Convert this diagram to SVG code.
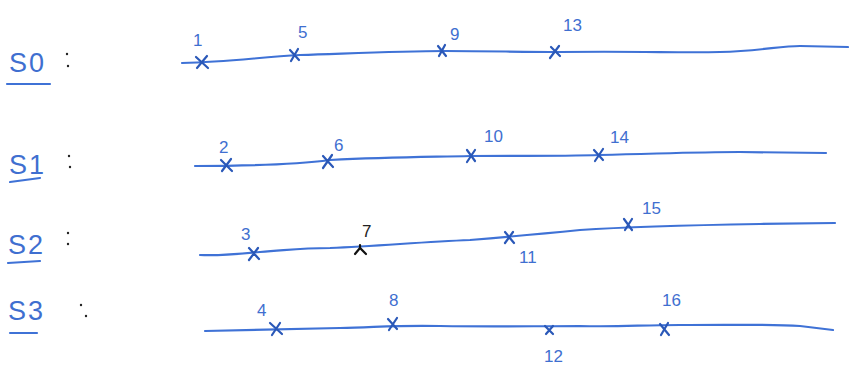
<svg xmlns="http://www.w3.org/2000/svg" width="849" height="371" viewBox="0 0 849 371">
<style>
.ln{fill:none;stroke:#3f72d6;stroke-width:2.2;stroke-linecap:round;stroke-linejoin:round}
.x{fill:none;stroke:#2a58b8;stroke-width:2.2;stroke-linecap:round}
.t{font-family:"Liberation Sans",Arial,sans-serif;fill:#3f6fd0}
.n{font-size:17px}
.s{font-size:27px;letter-spacing:2px}
.c{fill:#222}
</style>
<rect width="849" height="371" fill="#fff"/>
<g id="row-s0">
<text class="t s" x="9" y="72">S0</text>
<path class="ln" d="M7,84 L50,84"/>
<circle class="c" cx="67" cy="54" r="1.2"/><circle class="c" cx="68" cy="66" r="1.2"/>
<path class="ln" d="M182,63 C230,62 260,57 300,55 C360,53 400,51 445,51 C490,51 520,52 560,52 C640,51 680,53 720,52 C760,51 780,46 800,46 L848,47"/>
<path class="x" d="M196,57 L208,68 M207,56 L197,68"/><text class="t n" x="193" y="46">1</text>
<path class="x" d="M290,50 L299,60 M298,49 L291,61"/><text class="t n" x="298" y="38">5</text>
<path class="x" d="M438,46 L446,56 M445,45 L439,56"/><text class="t n" x="450" y="40">9</text>
<path class="x" d="M551,47 L560,56 M559,46 L550,58"/><text class="t n" x="563" y="31">13</text>
</g>
<g id="row-s1">
<text class="t s" x="9" y="174">S1</text>
<path class="ln" d="M10,182 L40,178"/>
<circle class="c" cx="69" cy="156" r="1.2"/><circle class="c" cx="70" cy="167" r="1.2"/>
<path class="ln" d="M195,166 C250,166 300,164 330,160 C390,157 430,157 470,156 C540,156 570,156 600,155 C680,153 700,152 740,152 L826,153"/>
<path class="x" d="M221,160 L232,171 M231,159 L222,171"/><text class="t n" x="219" y="153">2</text>
<path class="x" d="M323,156 L333,167 M332,155 L323,168"/><text class="t n" x="334" y="151">6</text>
<path class="x" d="M467,150 L475,161 M475,150 L467,162"/><text class="t n" x="484" y="142">10</text>
<path class="x" d="M594,150 L603,160 M603,149 L595,161"/><text class="t n" x="610" y="143">14</text>
</g>
<g id="row-s2">
<text class="t s" x="8" y="254">S2</text>
<path class="ln" d="M8,263 L40,261"/>
<circle class="c" cx="68" cy="233" r="1.2"/><circle class="c" cx="68" cy="244" r="1.2"/>
<path class="ln" d="M200,255 C220,256 240,254 260,252 C290,250 300,248 330,248 C380,246 420,242 470,240 C530,235 560,232 580,230 C640,226 700,225 760,224 L835,223"/>
<path class="x" d="M249,248 L259,259 M258,248 L249,260"/><text class="t n" x="241" y="240">3</text>
<path class="x" d="M355,254 L360,248 L366,254 M360,248 L360,245" style="stroke:#111"/><text class="t n" x="362" y="237" style="fill:#222">7</text>
<path class="x" d="M505,232 L514,243 M513,232 L505,243"/><text class="t n" x="519" y="263">11</text>
<path class="x" d="M624,219 L632,230 M632,219 L625,230"/><text class="t n" x="642" y="214">15</text>
</g>
<g id="row-s3">
<text class="t s" x="8" y="320">S3</text>
<path class="ln" d="M10,333 L37,333"/>
<circle class="c" cx="81" cy="305" r="1.2"/><circle class="c" cx="86" cy="316" r="1.2"/>
<path class="ln" d="M205,331 C260,330 300,329 340,328 C380,327 400,325 440,326 C500,327 530,326 580,326 C620,327 640,325 680,325 C740,325 770,324 800,326 L833,330"/>
<path class="x" d="M270,323 L282,334 M280,323 L272,335"/><text class="t n" x="257" y="316">4</text>
<path class="x" d="M388,319 L397,329 M397,318 L389,330"/><text class="t n" x="389" y="306">8</text>
<path class="x" d="M545,326 L553,334 M553,326 L546,334"/><text class="t n" x="544" y="362">12</text>
<path class="x" d="M660,324 L669,335 M668,323 L661,335"/><text class="t n" x="662" y="306">16</text>
</g>
</svg>
